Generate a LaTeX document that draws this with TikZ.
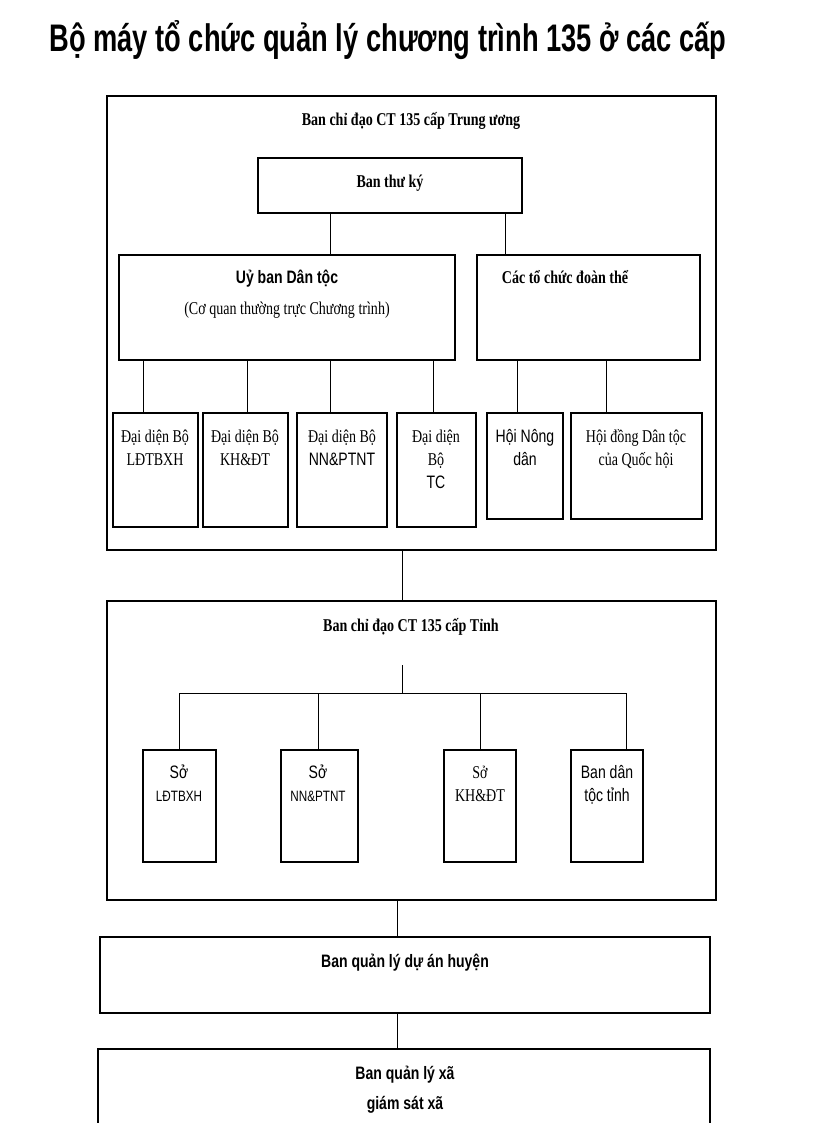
\documentclass[tikz,border=0pt]{standalone}
\usepackage{fontspec}
\usepackage{graphicx}
\setmainfont{Liberation Serif}
\newfontfamily\sansf{Liberation Sans}
\newcommand{\cz}[1]{\scalebox{0.78}[1]{\begin{tabular}{@{}c@{}}#1\end{tabular}}}
\newcommand{\smf}{\sansf\fontsize{15}{18}\selectfont}
\begin{document}
\begin{tikzpicture}[x=1pt,y=-1pt,
  bx/.style={draw,line width=1.3pt},
  ln/.style={line width=0.8pt},
  tx/.style={font=\fontsize{18}{23}\selectfont, inner sep=0pt}]
\useasboundingbox (0,0) rectangle (816,1123);
\node[inner sep=0] (title) at (388,40) {\resizebox{677pt}{31pt}{\sansf\bfseries Bộ máy tổ chức quản lý chương trình 135 ở các cấp}};
% level 1
\draw[bx] (107,96) rectangle (716,550);
\node[tx] (t1) at (411,121) {\cz{\bfseries Ban chỉ đạo CT 135 cấp Trung ương}};
\draw[bx] (258,158) rectangle (522,213);
\node[tx] at (390,183) {\cz{\bfseries Ban thư ký}};
\draw[bx] (119,255) rectangle (455,360);
\node[tx] at (287,279) {\cz{\sansf\bfseries Uỷ ban Dân tộc}};
\node[tx] at (287,310) {\cz{(Cơ quan thường trực Chương trình)}};
\draw[bx] (477,255) rectangle (700,360);
\node[tx] at (565,279) {\cz{\bfseries Các tổ chức đoàn thể}};
\draw[ln] (330,213)--(330,255) (505,213)--(505,255);
\foreach \a/\b/\x/\t in {113/198/155/{Đại diện Bộ\\LĐTBXH},203/288/245/{Đại diện Bộ\\KH\&ĐT},297/387/342/{Đại diện Bộ\\\sansf NN\&PTNT},397/476/436/{Đại diện\\Bộ\\\sansf TC}}{
  \draw[bx] (\a,413) rectangle (\b,527);
  \node[tx,anchor=north] at (\x,426) {\cz{\t}};}
\draw[bx,line width=2pt] (487,413) rectangle (563,519);
\node[tx,anchor=north] at (525,426) {\cz{\sansf Hội Nông\\\sansf dân}};
\draw[bx] (571,413) rectangle (702,519);
\node[tx,anchor=north] at (636,426) {\cz{Hội đồng Dân tộc\\của Quốc hội}};
\foreach \x in {143,247,330,433} \draw[ln] (\x,360)--(\x,413);
\foreach \x in {517,606} \draw[ln] (\x,360)--(\x,413);
\draw[ln] (402,550)--(402,601);
% level 2
\draw[bx] (107,601) rectangle (716,900);
\node[tx] at (411,627) {\cz{\bfseries Ban chỉ đạo CT 135 cấp Tỉnh}};
\draw[ln] (402,665)--(402,693) (179,750)--(179,693)--(626,693)--(626,750);
\draw[ln] (318,693)--(318,750) (480,693)--(480,750);
\foreach \a/\b/\x/\t in {143/216/179/{\sansf Sở\\\smf LĐTBXH},281/358/318/{\sansf Sở\\\smf NN\&PTNT},444/516/480/{Sở\\KH\&ĐT},571/643/607/{\sansf Ban dân\\\sansf tộc tỉnh}}{
  \draw[bx] (\a,750) rectangle (\b,862);
  \node[tx,anchor=north] at (\x,762) {\cz{\t}};}
\draw[ln] (397,900)--(397,937);
\draw[bx] (100,937) rectangle (710,1013);
\node[tx] at (405,963) {\cz{\sansf\bfseries Ban quản lý dự án huyện}};
\draw[ln] (397,1013)--(397,1049);
\draw[bx] (98,1125)--(98,1049)--(710,1049)--(710,1125);
\node[tx] at (405,1075) {\cz{\sansf\bfseries Ban quản lý xã}};
\node[tx] at (405,1105) {\cz{\sansf\bfseries giám sát xã}};
\end{tikzpicture}
\end{document}
